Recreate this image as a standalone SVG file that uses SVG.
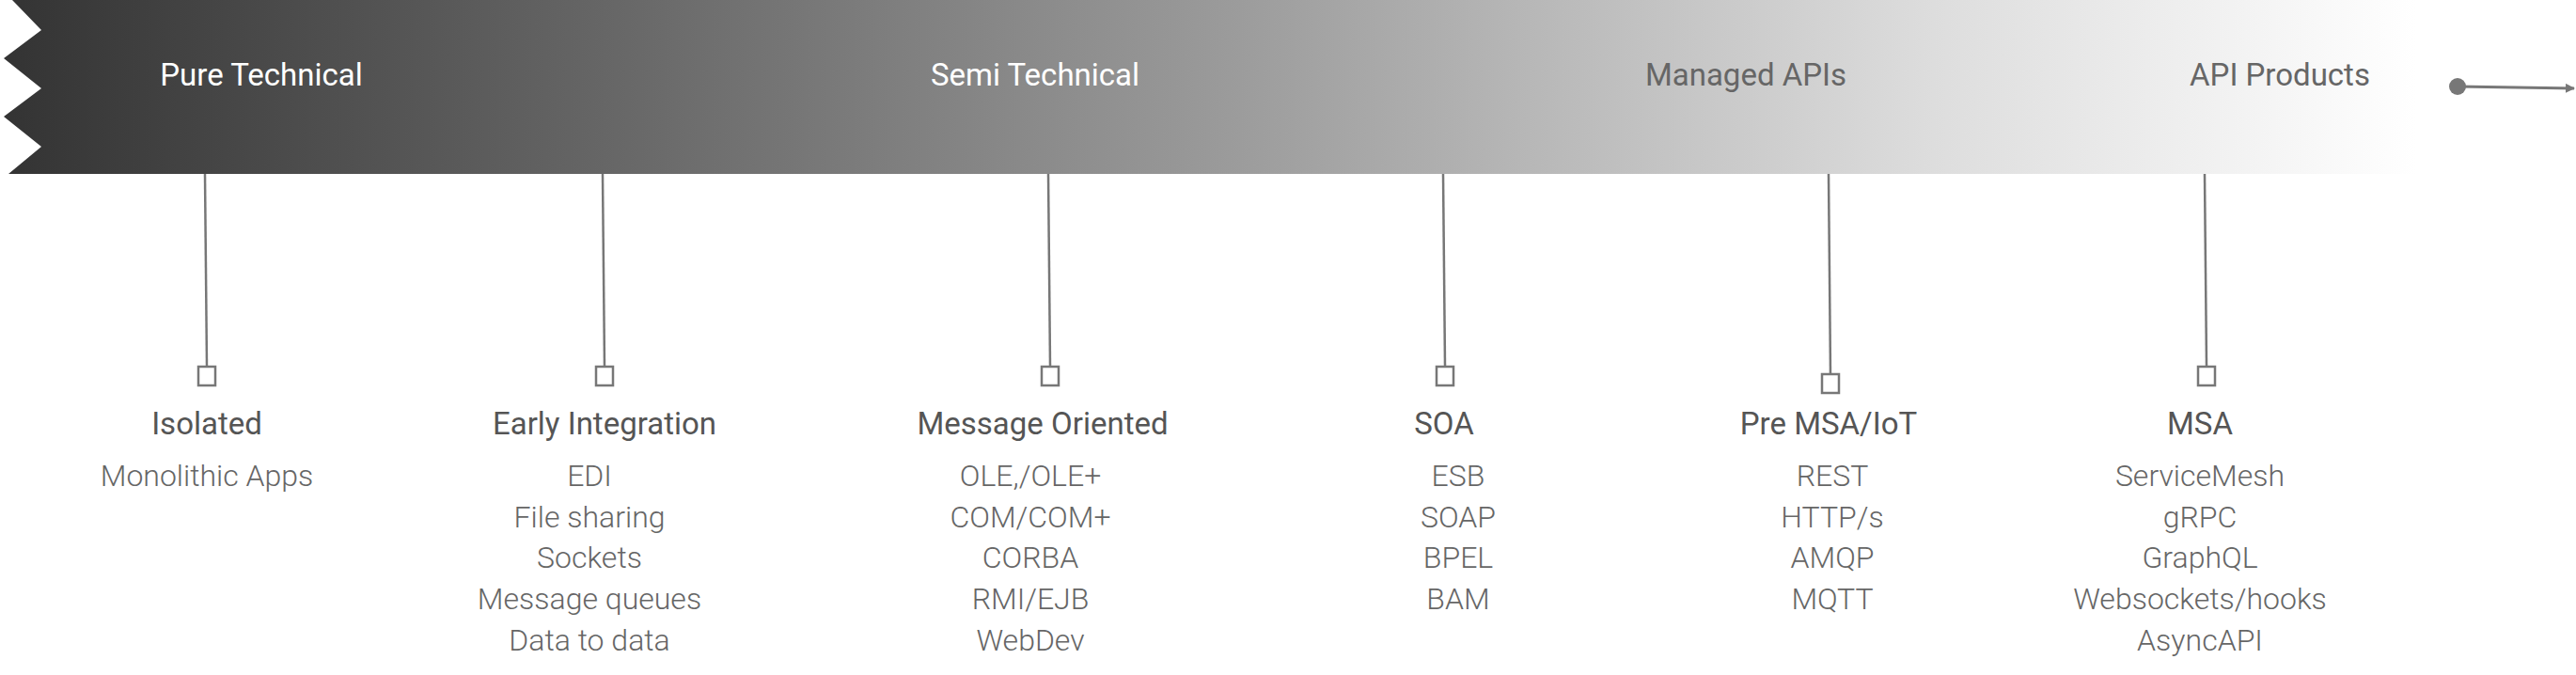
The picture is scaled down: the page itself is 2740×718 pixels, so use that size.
<svg xmlns="http://www.w3.org/2000/svg" width="2740" height="718" viewBox="0 0 2740 718">
<defs>
<linearGradient id="g" x1="0" y1="0" x2="2570" y2="0" gradientUnits="userSpaceOnUse">
<stop offset="0" stop-color="#333"/>
<stop offset="0.5" stop-color="#999"/>
<stop offset="0.8" stop-color="#ddd"/>
<stop offset="1" stop-color="#fff"/>
</linearGradient>
<marker id="ah" markerWidth="10" markerHeight="10" refX="9" refY="5" orient="auto" markerUnits="userSpaceOnUse" viewBox="0 0 10 10"><path d="M0,0 L10,5 L0,10 z" fill="#777"/></marker>
</defs>
<style>
text{font-family:Roboto,"Liberation Sans",sans-serif;text-anchor:middle}
.era{font-size:33px}
.h{font-size:33px;fill:#555}
.i{font-size:32px;fill:#666;font-weight:300}
.c{stroke:#777;stroke-width:2.5;fill:none}
.sq{stroke:#777;stroke-width:2.5;fill:#fff}
</style>
<g id="band">
<polygon points="13,0 2570,0 2570,185 9,185 44,156 4,124 44,94 4,62 44,32" fill="url(#g)"/>
<text class="era" x="278" y="91" fill="#fff">Pure Technical</text>
<text class="era" x="1101" y="91" fill="#fff">Semi Technical</text>
<text class="era" x="1857" y="91" fill="#666">Managed APIs</text>
<text class="era" x="2425" y="91" fill="#666">API Products</text>
</g>
<g id="connectors">
<line class="c" x1="218" y1="185" x2="220" y2="390"/>
<line class="c" x1="641" y1="185" x2="643" y2="390"/>
<line class="c" x1="1115" y1="185" x2="1117" y2="390"/>
<line class="c" x1="1535" y1="185" x2="1537" y2="390"/>
<line class="c" x1="1945" y1="185" x2="1947" y2="398"/>
<line class="c" x1="2345" y1="185" x2="2347" y2="390"/>
<line x1="2614" y1="92" x2="2738" y2="94" stroke="#777" stroke-width="3" marker-end="url(#ah)"/>
<circle cx="2614" cy="92" r="9" fill="#777"/>
</g>
<g id="n1"><rect class="sq" x="211" y="390" width="18" height="20"/><text class="h" x="220" y="462">Isolated</text><text class="i" x="220" y="517">Monolithic Apps</text></g>
<g id="n2"><rect class="sq" x="634" y="390" width="18" height="20"/><text class="h" x="643" y="462">Early Integration</text>
<text class="i" x="627" y="517">EDI</text><text class="i" x="627" y="561">File sharing</text><text class="i" x="627" y="604">Sockets</text><text class="i" x="627" y="648">Message queues</text><text class="i" x="627" y="692">Data to data</text></g>
<g id="n3"><rect class="sq" x="1108" y="390" width="18" height="20"/><text class="h" x="1109" y="462">Message Oriented</text>
<text class="i" x="1096" y="517">OLE,/OLE+</text><text class="i" x="1096" y="561">COM/COM+</text><text class="i" x="1096" y="604">CORBA</text><text class="i" x="1096" y="648">RMI/EJB</text><text class="i" x="1096" y="692">WebDev</text></g>
<g id="n4"><rect class="sq" x="1528" y="390" width="18" height="20"/><text class="h" x="1536" y="462">SOA</text>
<text class="i" x="1551" y="517">ESB</text><text class="i" x="1551" y="561">SOAP</text><text class="i" x="1551" y="604">BPEL</text><text class="i" x="1551" y="648">BAM</text></g>
<g id="n5"><rect class="sq" x="1938" y="398" width="18" height="20"/><text class="h" x="1945" y="462">Pre MSA/IoT</text>
<text class="i" x="1949" y="517">REST</text><text class="i" x="1949" y="561">HTTP/s</text><text class="i" x="1949" y="604">AMQP</text><text class="i" x="1949" y="648">MQTT</text></g>
<g id="n6"><rect class="sq" x="2338" y="390" width="18" height="20"/><text class="h" x="2340" y="462">MSA</text>
<text class="i" x="2340" y="517">ServiceMesh</text><text class="i" x="2340" y="561">gRPC</text><text class="i" x="2340" y="604">GraphQL</text><text class="i" x="2340" y="648">Websockets/hooks</text><text class="i" x="2340" y="692">AsyncAPI</text></g>
</svg>
